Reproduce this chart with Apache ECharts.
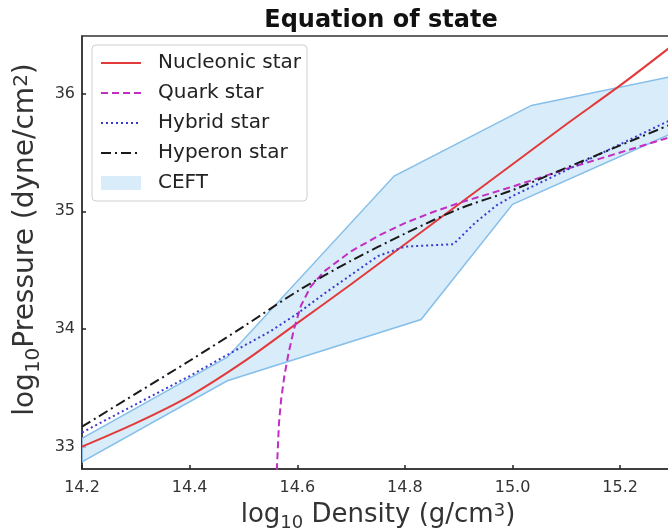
<!DOCTYPE html>
<html>
<head>
<meta charset="utf-8">
<script src="https://cdn.jsdelivr.net/npm/echarts@6/dist/echarts.min.js"></script>
<style>
  html, body { margin: 0; padding: 0; background: #fff; }
  #chart { width: 668px; height: 532px; }
</style>
</head>
<body>
<div id="chart"></div>
<script>
// Equation of state: log10 pressure against log10 density for several star models.
const seriesNames = ['Nucleonic star', 'Quark star', 'Hybrid star', 'Hyperon star', 'CEFT'];
const xTicks = [14.2, 14.4, 14.6, 14.8, 15.0, 15.2];
const yTicks = [33, 34, 35, 36];

// [log10 density, log10 pressure]
const nucleonic = [
  [14.2, 33.0], [14.3, 33.2], [14.4, 33.43], [14.5, 33.72], [14.6, 34.05],
  [14.7, 34.38], [14.8, 34.72], [14.9, 35.06], [15.0, 35.4], [15.1, 35.74],
  [15.2, 36.07], [15.3, 36.42]
];
const quark = [
  [14.562, 32.8], [14.564, 33.0], [14.566, 33.2], [14.57, 33.4], [14.576, 33.6],
  [14.584, 33.8], [14.594, 34.0], [14.607, 34.2], [14.625, 34.36], [14.65, 34.49],
  [14.7, 34.66], [14.75, 34.79], [14.8, 34.9], [14.85, 34.99], [14.9, 35.07],
  [15.0, 35.21], [15.1, 35.36], [15.2, 35.5], [15.3, 35.64]
];
const hybrid = [
  [14.2, 33.12], [14.3, 33.36], [14.4, 33.6], [14.47, 33.78], [14.55, 33.98],
  [14.6, 34.13], [14.65, 34.3], [14.7, 34.46], [14.75, 34.62], [14.8, 34.7],
  [14.89, 34.72], [14.93, 34.9], [14.97, 35.05], [15.0, 35.13], [15.1, 35.35],
  [15.2, 35.57], [15.3, 35.79]
];
const hyperon = [
  [14.2, 33.17], [14.3, 33.45], [14.4, 33.73], [14.5, 34.02], [14.6, 34.32],
  [14.7, 34.58], [14.8, 34.81], [14.9, 35.02], [15.0, 35.18], [15.1, 35.37],
  [15.2, 35.56], [15.3, 35.75]
];
// CEFT band edges
const ceftUpper = [[14.2, 33.07], [14.47, 33.76], [14.78, 35.3], [15.035, 35.9], [15.3, 36.15]];
const ceftLower = [[14.2, 32.87], [14.47, 33.56], [14.83, 34.08], [15.0, 35.06], [15.3, 35.67]];

const chart = echarts.init(document.getElementById('chart'), null, { renderer: 'canvas' });
const FONT = 'DejaVu Sans';
const axisText = '#333';
const bandFill = 'rgba(200,228,248,0.7)';
const bandEdge = '#86bfe9';

function bandItem(params, api) {
  const pts = ceftUpper.map(p => api.coord(p))
    .concat(ceftLower.slice().reverse().map(p => api.coord(p)));
  return {
    type: 'polygon',
    shape: { points: pts },
    style: { fill: bandFill, stroke: bandEdge, lineWidth: 1.5 }
  };
}

function richName(size) {
  return {
    a: { fontFamily: FONT, fontSize: size, color: axisText, lineHeight: size + 4, verticalAlign: 'top' },
    s: { fontFamily: FONT, fontSize: Math.round(size * 0.7), color: axisText, lineHeight: size + 16, verticalAlign: 'middle' },
    p: { fontFamily: FONT, fontSize: Math.round(size * 0.7), color: axisText, lineHeight: 10, verticalAlign: 'top' }
  };
}

const hideSymbol = { opacity: 0 };

const option = {
  backgroundColor: '#fff',
  animation: false,
  title: {
    text: 'Equation of state',
    left: 376, top: 4, textAlign: 'center',
    textStyle: { fontFamily: FONT, fontSize: 24, fontWeight: 'bold', color: '#111' }
  },
  grid: {
    left: 82, right: -6, top: 36, bottom: 63,
    outerBoundsMode: 'none', containLabel: false,
    show: true, borderColor: '#333', borderWidth: 1.5, backgroundColor: 'transparent'
  },
  legend: {
    orient: 'vertical', left: 92, top: 45,
    data: [
      { name: seriesNames[0], itemStyle: hideSymbol },
      { name: seriesNames[1], itemStyle: hideSymbol },
      { name: seriesNames[2], itemStyle: hideSymbol },
      { name: seriesNames[3], itemStyle: hideSymbol },
      { name: seriesNames[4], icon: 'rect', itemStyle: { color: bandFill, borderColor: bandFill, opacity: 1 } }
    ],
    itemWidth: 40, itemHeight: 14, itemGap: 10,
    padding: [8, 6, 8, 8],
    backgroundColor: 'rgba(255,255,255,0.85)',
    borderColor: '#d0d0d0', borderWidth: 1, borderRadius: 4,
    textStyle: { fontFamily: FONT, fontSize: 20, lineHeight: 20, color: '#222', padding: [0, 0, 0, 12] }
  },
  xAxis: {
    type: 'value', min: 14.2, max: 15.3, interval: 0.2,
    name: '{a|log}{s|10}{a| Density (g/cm}{p|3}{a|)}',
    nameLocation: 'middle', nameGap: 33,
    nameTextStyle: { fontFamily: FONT, color: axisText, rich: richName(26) },
    axisLine: { onZero: false, lineStyle: { color: '#333', width: 1.5 } },
    axisTick: { inside: true, length: 4, lineStyle: { color: '#222', width: 1.5 } },
    splitLine: { show: false },
    axisLabel: {
      fontFamily: FONT, fontSize: 16, color: axisText, margin: 11,
      customValues: xTicks, formatter: v => v.toFixed(1)
    }
  },
  yAxis: {
    type: 'value', min: 32.81, max: 36.49,
    name: '{a|log}{s|10}{a|Pressure (dyne/cm}{p|2}{a|)}',
    nameLocation: 'middle', nameGap: 23, nameRotate: 90,
    nameTextStyle: { fontFamily: FONT, color: axisText, padding: [0, 0, 0, 26], rich: richName(28) },
    axisLine: { show: true, onZero: false, lineStyle: { color: '#333', width: 1.5 } },
    axisTick: { show: true, inside: true, length: 4, customValues: yTicks, lineStyle: { color: '#222', width: 1.5 } },
    splitLine: { show: false },
    axisLabel: { fontFamily: FONT, fontSize: 16, color: axisText, margin: 7, customValues: yTicks }
  },
  series: [
    {
      name: seriesNames[4], type: 'custom', renderItem: bandItem, data: [[14.2, 33]],
      itemStyle: { color: bandFill }, clip: true, z: 1, silent: true
    },
    {
      name: seriesNames[0], type: 'line', data: nucleonic, symbol: 'none', smooth: 0.3,
      lineStyle: { color: '#e23a3a', width: 2 }, itemStyle: { color: '#e23a3a' }, z: 3
    },
    {
      name: seriesNames[1], type: 'line', data: quark, symbol: 'none', clip: true,
      lineStyle: { color: '#c22ec2', width: 2, type: [7, 4] }, itemStyle: { color: '#c22ec2' }, z: 3
    },
    {
      name: seriesNames[2], type: 'line', data: hybrid, symbol: 'none',
      lineStyle: { color: '#3a3ad0', width: 2, type: [2, 3] }, itemStyle: { color: '#3a3ad0' }, z: 3
    },
    {
      name: seriesNames[3], type: 'line', data: hyperon, symbol: 'none', smooth: 0.3,
      lineStyle: { color: '#1a1a1a', width: 2, type: [10, 4, 2, 4] }, itemStyle: { color: '#1a1a1a' }, z: 3
    }
  ]
};
chart.setOption(option);
</script>
</body>
</html>
